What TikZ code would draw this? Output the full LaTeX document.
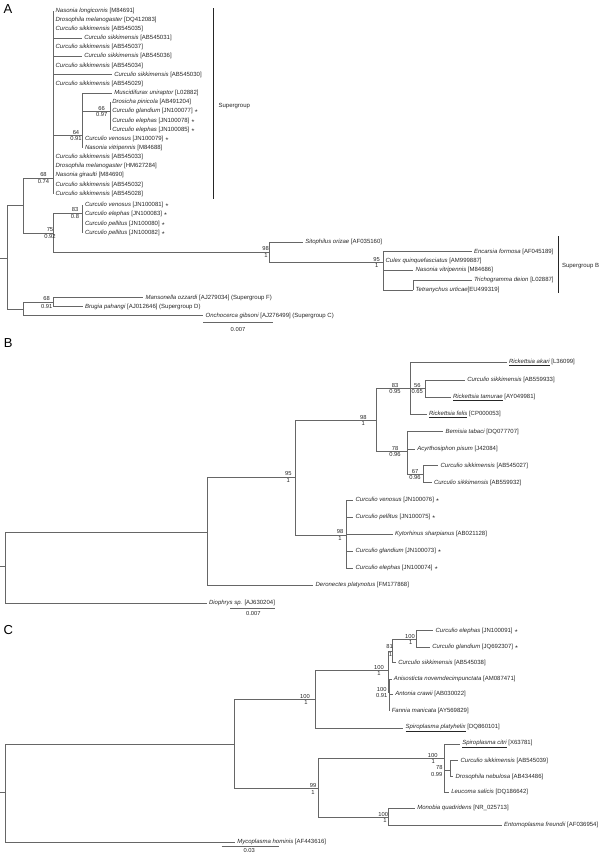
\documentclass[tikz,border=0pt]{standalone}
\usepackage{fontspec}
\setmainfont{Liberation Sans}

\begin{document}
\begin{tikzpicture}[x=1pt,y=-1pt,line width=0.6pt,
        every edge/.style={draw=black!60,to path={|- (\tikztotarget)}},
        tip/.style={anchor=west,inner xsep=2pt,inner ysep=0pt,text=black!85,
          font=\fontsize{6}{6}\selectfont},
        bs/.style={inner sep=0pt,text=black!85,font=\fontsize{5.8}{6}\selectfont},
        panel/.style={inner sep=0pt,font=\fontsize{13}{13}\selectfont},
        grp/.style={draw=black!85,line width=1pt},
        scalebar/.style={draw=black!60}]
      \useasboundingbox (0,0) rectangle (600,853);
      \node[panel] (pa) at (8,9.5) {A};
      \coordinate (sa) at (0,258);
      \coordinate (ra) at (7.3,258);
      \coordinate (a1) at (23.3,205.5);
      \coordinate (a2) at (53.3,178);
      \coordinate (a3) at (82.7,135.3);
      \coordinate (a4) at (110,111.7);
      \coordinate (a5) at (53.3,233);
      \coordinate (a6) at (82.7,213);
      \coordinate (a7) at (269.3,252.3);
      \coordinate (a8) at (383.3,262.5);
      \coordinate (a9) at (413.3,290);
      \coordinate (a10) at (23.3,309);
      \coordinate (a11) at (53.3,302.7);
      \node[tip] (ta1) at (53.3,10.7) {\textit{Nasonia longicornis} [M84691]};
      \node[tip] (ta2) at (53.3,19.8) {\textit{Drosophila melanogaster} [DQ412083]};
      \node[tip] (ta3) at (53.3,29) {\textit{Curculio sikkimensis} [AB545035]};
      \node[tip] (ta4) at (82,38.1) {\textit{Curculio sikkimensis} [AB545031]};
      \node[tip] (ta5) at (53.3,47.3) {\textit{Curculio sikkimensis} [AB545037]};
      \node[tip] (ta6) at (82,56.4) {\textit{Curculio sikkimensis} [AB545036]};
      \node[tip] (ta7) at (53.3,65.6) {\textit{Curculio sikkimensis} [AB545034]};
      \node[tip] (ta8) at (112,74.7) {\textit{Curculio sikkimensis} [AB545030]};
      \node[tip] (ta9) at (53.3,83.9) {\textit{Curculio sikkimensis} [AB545029]};
      \node[tip] (ta10) at (112,93) {\textit{Muscidifurax uniraptor} [L02882]};
      \node[tip] (ta11) at (110,102.2) {\textit{Drosicha pinicola} [AB491204]};
      \node[tip] (ta12) at (110,111.3) {\textit{Curculio glandium} [JN100077] $\star$};
      \node[tip] (ta13) at (110,120.5) {\textit{Curculio elephas} [JN100078] $\star$};
      \node[tip] (ta14) at (110,129.6) {\textit{Curculio elephas} [JN100085] $\star$};
      \node[tip] (ta15) at (82.7,138.8) {\textit{Curculio venosus} [JN100079] $\star$};
      \node[tip] (ta16) at (82.7,147.9) {\textit{Nasonia vitripennis} [M84688]};
      \node[tip] (ta17) at (53.3,157.1) {\textit{Curculio sikkimensis} [AB545033]};
      \node[tip] (ta18) at (53.3,166.2) {\textit{Drosophila melanogaster} [HM627284]};
      \node[tip] (ta19) at (53.3,175.4) {\textit{Nasonia giraulti} [M84690]};
      \node[tip] (ta20) at (53.3,184.5) {\textit{Curculio sikkimensis} [AB545032]};
      \node[tip] (ta21) at (53.3,193.7) {\textit{Curculio sikkimensis} [AB545028]};
      \node[tip] (ta22) at (82.7,205.3) {\textit{Curculio venosus} [JN100081] $\star$};
      \node[tip] (ta23) at (82.7,214.4) {\textit{Curculio elephas} [JN100083] $\star$};
      \node[tip] (ta24) at (82.7,223.5) {\textit{Curculio pellitus} [JN100080] $\star$};
      \node[tip] (ta25) at (82.7,232.6) {\textit{Curculio pellitus} [JN100082] $\star$};
      \node[tip] (ta26) at (303,242.3) {\textit{Sitophilus orizae} [AF035160]};
      \node[tip] (ta27) at (471.7,251.7) {\textit{Encarsia formosa} [AF045189]};
      \node[tip] (ta28) at (383.3,260.5) {\textit{Culex quinquefasciatus} [AM999887]};
      \node[tip] (ta29) at (413.3,270) {\textit{Nasonia vitripennis} [M84686]};
      \node[tip] (ta30) at (471.7,280) {\textit{Trichogramma deion} [L02887]};
      \node[tip] (ta31) at (413.3,290) {\textit{Tetranychus urticae}[EU499319]};
      \node[tip] (ta32) at (143.3,297.7) {\textit{Mansonella ozzardi} [AJ279034] (Supergroup F)};
      \node[tip] (ta33) at (82.7,306.7) {\textit{Brugia pahangi} [AJ012646] (Supergroup D)};
      \node[tip] (ta34) at (203.3,315.7) {\textit{Onchocerca gibsoni} [AJ276499] (Supergroup C)};
      \path (sa) edge (ra)
      (ra) edge (a1) edge (a10)
      (a1) edge (a2) edge (a5)
      (a2) edge (ta1.west) edge (ta2.west) edge (ta3.west) edge (ta4.west)
      edge (ta5.west) edge (ta6.west) edge (ta7.west) edge (ta8.west)
      edge (ta9.west) edge (a3) edge (ta17.west) edge (ta18.west)
      edge (ta19.west) edge (ta20.west) edge (ta21.west)
      (a3) edge (ta10.west) edge (a4) edge (ta15.west) edge (ta16.west)
      (a4) edge (ta11.west) edge (ta12.west) edge (ta13.west) edge (ta14.west)
      (a5) edge (a6) edge (a7)
      (a6) edge (ta22.west) edge (ta23.west) edge (ta24.west) edge (ta25.west)
      (a7) edge (ta26.west) edge (a8)
      (a8) edge (ta27.west) edge (ta28.west) edge (ta29.west) edge (a9)
      (a9) edge (ta30.west) edge (ta31.west)
      (a10) edge (a11) edge (ta34.west)
      (a11) edge (ta32.west) edge (ta33.west);
      \node[bs] (la2) at (43.5,175) {68};
      \node[bs] (pa2) at (43.5,181.3) {0.74};
      \node[bs] (la3) at (76,132.3) {64};
      \node[bs] (pa3) at (76,138.6) {0.91};
      \node[bs] (la4) at (101.7,108.5) {66};
      \node[bs] (pa4) at (101.7,115) {0.97};
      \node[bs] (la5) at (50,229.8) {75};
      \node[bs] (pa5) at (50,236.4) {0.92};
      \node[bs] (la6) at (75,210) {83};
      \node[bs] (pa6) at (75,216.3) {0.8};
      \node[bs] (la7) at (265.5,249) {98};
      \node[bs] (pa7) at (266,255.5) {1};
      \node[bs] (la8) at (376.7,259.5) {95};
      \node[bs] (pa8) at (376.7,265.8) {1};
      \node[bs] (la11) at (46.7,299) {68};
      \node[bs] (pa11) at (46.7,306.3) {0.91};
      \coordinate (ga1) at (213.3,8.3);
      \coordinate (ga2) at (213.3,199);
      \draw[grp] (ga1) -- (ga2);
      \node[tip,inner xsep=0pt] (sga) at (218.3,106) {Supergroup};
      \coordinate (gb1) at (558.3,236);
      \coordinate (gb2) at (558.3,292.7);
      \draw[grp] (gb1) -- (gb2);
      \node[tip,inner xsep=0pt] (sgb) at (561.7,265.7) {Supergroup B};
      \coordinate (ka1) at (203,322.7);
      \coordinate (ka2) at (273,322.7);
      \draw[scalebar] (ka1) -- (ka2);
      \node[bs] (ka) at (238,329.3) {0.007};

      \node[panel] (pb) at (8.3,342.7) {B};
      \coordinate (sb) at (0,566.7);
      \coordinate (rb) at (5,566.7);
      \coordinate (b1) at (207.3,532.3);
      \coordinate (b2) at (295,477.3);
      \coordinate (b3) at (376,420);
      \coordinate (b4) at (410,388.3);
      \coordinate (b5) at (425,388.3);
      \coordinate (b6) at (407.7,451.7);
      \coordinate (b7) at (423.3,474.3);
      \coordinate (b8) at (346.7,535);
      \node[tip] (tb1) at (506.7,362.7) {\underline{\textit{Rickettsia akari}} [L36099]};
      \node[tip] (tb2) at (465,380) {\textit{Curculio sikkimensis} [AB559933]};
      \node[tip] (tb3) at (450.7,397.3) {\underline{\textit{Rickettsia tamurae}} [AY049981]};
      \node[tip] (tb4) at (426.7,414.3) {\underline{\textit{Rickettsia felis}} [CP000053]};
      \node[tip] (tb5) at (443.3,431.7) {\textit{Bemisia tabaci} [DQ077707]};
      \node[tip] (tb6) at (415,449) {\textit{Acyrthosiphon pisum} [J42084]};
      \node[tip] (tb7) at (438.3,465.7) {\textit{Curculio sikkimensis} [AB545027]};
      \node[tip] (tb8) at (431.7,482.7) {\textit{Curculio sikkimensis} [AB559932]};
      \node[tip] (tb9) at (353.3,500) {\textit{Curculio venosus} [JN100076] $\star$};
      \node[tip] (tb10) at (353.3,517.3) {\textit{Curculio pellitus} [JN100075] $\star$};
      \node[tip] (tb11) at (392.7,534.3) {\textit{Kytorhinus sharpianus} [AB021128]};
      \node[tip] (tb12) at (353.3,551) {\textit{Curculio glandium} [JN100073] $\star$};
      \node[tip] (tb13) at (353.3,568.3) {\textit{Curculio elephas} [JN100074] $\star$};
      \node[tip] (tb14) at (313.3,585) {\textit{Deronectes platynotus} [FM177868]};
      \node[tip] (tb15) at (206.7,603.3) {\textit{Diophrys sp.} [AJ630204]};
      \path (sb) edge (rb)
      (rb) edge (b1) edge (tb15.west)
      (b1) edge (b2) edge (tb14.west)
      (b2) edge (b3) edge (b8)
      (b3) edge (b4) edge (b6)
      (b4) edge (tb1.west) edge (b5) edge (tb4.west)
      (b5) edge (tb2.west) edge (tb3.west)
      (b6) edge (tb5.west) edge (tb6.west) edge (b7)
      (b7) edge (tb7.west) edge (tb8.west)
      (b8) edge (tb9.west) edge (tb10.west) edge (tb11.west) edge (tb12.west)
      edge (tb13.west);
      \node[bs] (lb2) at (288.3,473.8) {95};
      \node[bs] (pb2) at (288.3,480) {1};
      \node[bs] (lb3) at (363.3,417.5) {98};
      \node[bs] (pb3) at (363.3,424) {1};
      \node[bs] (lb4) at (395,385) {83};
      \node[bs] (pb4) at (395,391.5) {0.95};
      \node[bs] (lb5) at (417.3,385) {56};
      \node[bs] (pb5) at (417.3,391.5) {0.65};
      \node[bs] (lb6) at (395,448.5) {78};
      \node[bs] (pb6) at (395,454.5) {0.96};
      \node[bs] (lb7) at (415,471.5) {67};
      \node[bs] (pb7) at (415,477.8) {0.96};
      \node[bs] (lb8) at (340,531.8) {98};
      \node[bs] (pb8) at (340,538) {1};
      \coordinate (kb1) at (230,608.3);
      \coordinate (kb2) at (275,608.3);
      \draw[scalebar] (kb1) -- (kb2);
      \node[bs] (kb) at (253.3,613) {0.007};

      \node[panel] (pc) at (8.3,630) {C};
      \coordinate (sc) at (0,792.7);
      \coordinate (rc) at (5,792.7);
      \coordinate (c1) at (234.3,744);
      \coordinate (c2) at (315,699.3);
      \coordinate (c3) at (388.3,670);
      \coordinate (c4) at (392.7,651);
      \coordinate (c5) at (416.7,639.3);
      \coordinate (c6) at (389.5,692);
      \coordinate (c7) at (318.3,788);
      \coordinate (c8) at (444,758.3);
      \coordinate (c9) at (450,770);
      \coordinate (c10) at (388.3,817.3);
      \node[tip] (tc1) at (433.3,630.7) {\textit{Curculio elephas} [JN100091] $\star$};
      \node[tip] (tc2) at (430,647.3) {\textit{Curculio glandium} [JQ692307] $\star$};
      \node[tip] (tc3) at (396,662.7) {\textit{Curculio sikkimensis} [AB545038]};
      \node[tip] (tc4) at (391.5,679) {\textit{Anisosticta novemdecimpunctata} [AM087471]};
      \node[tip] (tc5) at (393,694.3) {\textit{Antonia crawii} [AB030022]};
      \node[tip] (tc6) at (389.5,710.7) {\textit{Fannia manicata} [AY569829]};
      \node[tip] (tc7) at (403.3,728.3) {\underline{\textit{Spiroplasma platyhelix}} [DQ860101]};
      \node[tip] (tc8) at (460,744) {\underline{\textit{Spiroplasma citri}} [X63781]};
      \node[tip] (tc9) at (458.3,760.7) {\textit{Curculio sikkimensis} [AB545039]};
      \node[tip] (tc10) at (453.3,776.7) {\textit{Drosophila nebulosa} [AB434486]};
      \node[tip] (tc11) at (449,792.3) {\textit{Leucoma salicis} [DQ186642]};
      \node[tip] (tc12) at (415,808.3) {\textit{Monobia quadridens} [NR\_025713]};
      \node[tip] (tc13) at (501.7,825) {\textit{Entomoplasma freundii} [AF036954]};
      \node[tip] (tc14) at (235,842.3) {\textit{Mycoplasma hominis} [AF443616]};
      \path (sc) edge (rc)
      (rc) edge (c1) edge (tc14.west)
      (c1) edge (c2) edge (c7)
      (c2) edge (c3) edge (tc7.west)
      (c3) edge (c4) edge (c6)
      (c4) edge (c5) edge (tc3.west)
      (c5) edge (tc1.west) edge (tc2.west)
      (c6) edge (tc4.west) edge (tc5.west) edge (tc6.west)
      (c7) edge (c8) edge (c10)
      (c8) edge (tc8.west) edge (c9) edge (tc11.west)
      (c9) edge (tc9.west) edge (tc10.west)
      (c10) edge (tc12.west) edge (tc13.west);
      \node[bs] (lc2) at (305,696.3) {100};
      \node[bs] (pc2) at (306,702.5) {1};
      \node[bs] (lc3) at (379,667.3) {100};
      \node[bs] (pc3) at (379,673.5) {1};
      \node[bs] (lc4) at (389.5,646) {81};
      \node[bs] (pc4) at (390.5,654) {1};
      \node[bs] (lc5) at (410,636) {100};
      \node[bs] (pc5) at (410.7,642) {1};
      \node[bs] (lc6) at (381.7,689) {100};
      \node[bs] (pc6) at (381.7,695.3) {0.91};
      \node[bs] (lc7) at (313,785.8) {99};
      \node[bs] (pc7) at (313,792.3) {1};
      \node[bs] (lc8) at (432.7,755) {100};
      \node[bs] (pc8) at (433.3,761.3) {1};
      \node[bs] (lc9) at (439.3,767) {78};
      \node[bs] (pc9) at (436.7,774) {0.99};
      \node[bs] (lc10) at (383.3,814) {100};
      \node[bs] (pc10) at (385,820.3) {1};
      \coordinate (kc1) at (221.7,846.7);
      \coordinate (kc2) at (279.3,846.7);
      \draw[scalebar] (kc1) -- (kc2);
      \node[bs] (kc) at (249.3,850.5) {0.03};
    \end{tikzpicture}
\end{document}
